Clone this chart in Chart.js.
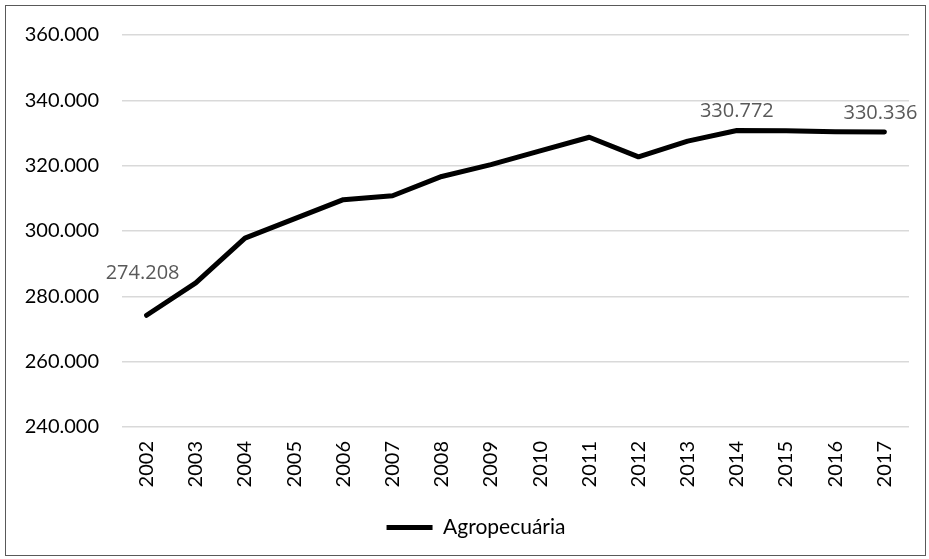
<!DOCTYPE html>
<html>
<head>
<meta charset="utf-8">
<script src="https://cdn.jsdelivr.net/npm/chart.js@4"></script>
<style>
  html, body { margin: 0; padding: 0; background: #fff; }
  #wrap { position: relative; width: 929px; height: 559px; }
  #frame { position: absolute; left: 5px; top: 5px; width: 919px; height: 549px; border: 1.5px solid #595959; pointer-events: none; }
</style>
</head>
<body>
<div id="wrap">
  <canvas id="agroChart" width="929" height="559"></canvas>
  <div id="frame"></div>
</div>
<script>
// anos e valores da série
const anos = ['2002', '2003', '2004', '2005', '2006', '2007', '2008', '2009',
              '2010', '2011', '2012', '2013', '2014', '2015', '2016', '2017'];
const agropecuaria = [274208, 284100, 297800, 303700, 309600, 310800, 316700, 320300,
                      324500, 328700, 322700, 327500, 330772, 330700, 330400, 330336];
// pontos que recebem rótulo de valor
const rotulados = [0, 12, 15];

// 360000 -> "360.000"
const formatar = v => String(Math.round(v)).replace(/\B(?=(\d{3})+(?!\d))/g, '.');

// desenha o valor acima dos pontos escolhidos
const rotulosPlugin = {
  id: 'rotulos',
  afterLayout(chart) {
    // legenda um pouco à direita do centro
    chart.legend.left += 10;
    chart.legend.right += 10;
  },
  afterDatasetsDraw(chart, args, opts) {
    const ctx = chart.ctx;
    const meta = chart.getDatasetMeta(0);
    ctx.save();
    ctx.font = '20px "Open Sans"';
    ctx.fillStyle = '#595959';
    ctx.textAlign = 'center';
    ctx.textBaseline = 'middle';
    rotulados.forEach(i => {
      const p = meta.data[i];
      const dx = (opts.dx && opts.dx[i]) || 0;
      const dy = (opts.dy && opts.dy[i]) || 20;
      ctx.fillText(formatar(agropecuaria[i]), p.x + dx, p.y - dy);
    });
    ctx.restore();
  }
};

const ctx = document.getElementById('agroChart').getContext('2d');
new Chart(ctx, {
  type: 'line',
  data: {
    labels: anos,
    datasets: [{
      label: 'Agropecuária',
      data: agropecuaria,
      borderColor: '#000',
      backgroundColor: '#000',
      borderWidth: 5,
      borderCapStyle: 'round',
      borderJoinStyle: 'round',
      pointRadius: 0,
      tension: 0,
      fill: false
    }]
  },
  options: {
    responsive: false,
    animation: false,
    layout: { padding: { top: 34, right: 20, left: 23, bottom: 11 } },
    plugins: {
      tooltip: { enabled: false },
      rotulos: { dx: { 0: -4, 15: -4 }, dy: { 0: 42, 12: 19, 15: 19 } },
      legend: {
        position: 'bottom',
        labels: {
          usePointStyle: true,
          pointStyle: 'line',
          pointStyleWidth: 46,
          color: '#000',
          font: { family: 'Lato', size: 21 },
          padding: 10
        }
      }
    },
    scales: {
      x: {
        offset: true,
        grid: { display: false, drawTicks: false },
        border: { display: false },
        ticks: {
          minRotation: 90,
          maxRotation: 90,
          padding: 14,
          color: '#000',
          font: { family: 'Lato', size: 20 }
        },
        afterFit(scale) { scale.height = 80; }
      },
      y: {
        min: 240000,
        max: 360000,
        grid: { color: '#d9d9d9', lineWidth: 1.5, drawTicks: false },
        border: { display: false },
        ticks: {
          stepSize: 20000,
          padding: 23,
          color: '#000',
          font: { family: 'Lato', size: 20 },
          callback: v => formatar(v)
        },
        afterFit(scale) { scale.width = 99; }
      }
    }
  },
  plugins: [rotulosPlugin]
});
</script>
</body>
</html>
